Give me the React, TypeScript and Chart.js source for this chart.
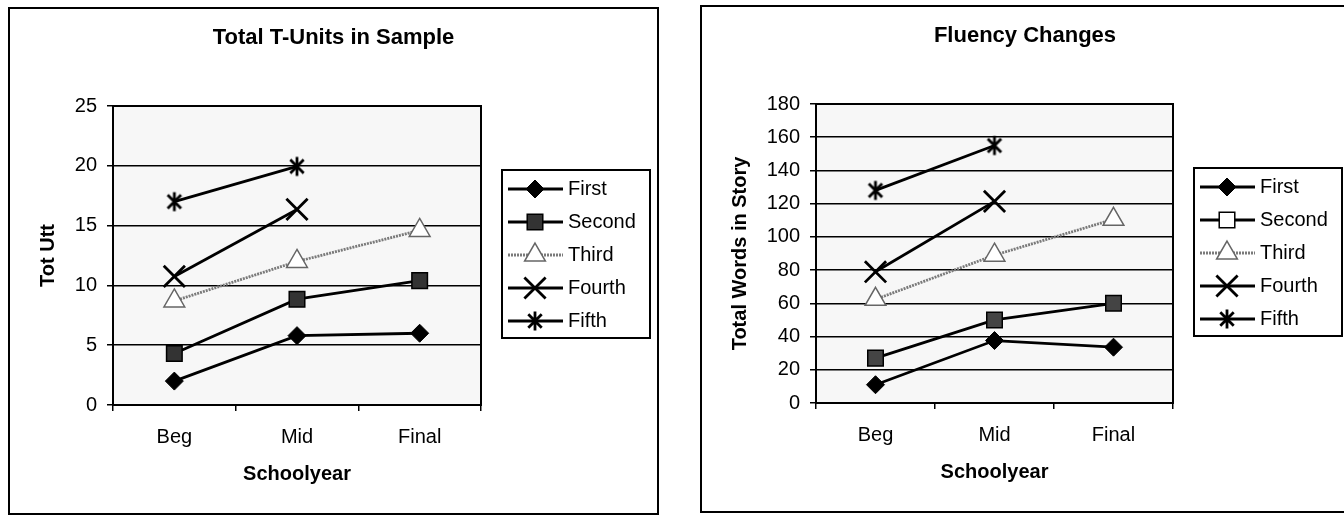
import React, { useEffect, useRef } from 'react';
import { Chart, registerables } from 'chart.js';
import { drawPoint } from 'chart.js/helpers';

Chart.register(...registerables);

const FONT = "'Liberation Sans', Arial, sans-serif";

const categories = ['Beg', 'Mid', 'Final'];
const seriesNames = ['First', 'Second', 'Third', 'Fourth', 'Fifth'];

// Left chart: Total T-Units in Sample (Tot Utt)
const unitsFirst = [2, 5.8, 6.0];
const unitsSecond = [4.3, 8.85, 10.4];
const unitsThird = [8.7, 12.0, 14.6];
const unitsFourth = [10.75, 16.35, null];
const unitsFifth = [17, 19.95, null];
const unitsMax = 25;
const unitsStep = 5;

// Right chart: Fluency Changes (Total Words in Story)
const wordsFirst = [11, 37.6, 33.6];
const wordsSecond = [27, 50, 60];
const wordsThird = [62.4, 89, 110.6];
const wordsFourth = [79, 121.4, null];
const wordsFifth = [128, 155, null];
const wordsMax = 180;
const wordsStep = 20;

function makeAsterisk(): HTMLCanvasElement {
  const size = 22;
  const c = document.createElement('canvas');
  c.width = size;
  c.height = size;
  const g = c.getContext('2d')!;
  g.strokeStyle = '#000';
  g.lineWidth = 2.8;
  const m = size / 2;
  const r = 9.5;
  const d = r * Math.SQRT1_2;
  g.beginPath();
  g.moveTo(m, m - r);
  g.lineTo(m, m + r);
  g.moveTo(m - d, m - d);
  g.lineTo(m + d, m + d);
  g.moveTo(m + d, m - d);
  g.lineTo(m - d, m + d);
  g.stroke();
  return c;
}

function buildDatasets(values: (number | null)[][], squareFill: string, legendSquareFill: string, asterisk: HTMLCanvasElement) {
  const [a, b, c, d, e] = values;
  return [
    { label: seriesNames[0], data: a, borderColor: '#000', borderWidth: 2.8, pointStyle: 'rectRot', pointRadius: 9, pointBackgroundColor: '#000', pointBorderColor: '#000', pointBorderWidth: 1 },
    { label: seriesNames[1], data: b, borderColor: '#000', borderWidth: 2.8, pointStyle: 'rect', pointRadius: 11, pointBackgroundColor: squareFill, pointBorderColor: '#000', pointBorderWidth: 1.5, legendFill: legendSquareFill },
    { label: seriesNames[2], data: c, borderColor: '#7a7a7a', borderWidth: 2.8, borderDash: [2, 1], pointStyle: 'triangle', pointRadius: 12, pointBackgroundColor: '#fff', pointBorderColor: '#666', pointBorderWidth: 1.5 },
    { label: seriesNames[3], data: d, borderColor: '#000', borderWidth: 2.8, pointStyle: 'crossRot', pointRadius: 15, pointBackgroundColor: '#000', pointBorderColor: '#000', pointBorderWidth: 2.8 },
    { label: seriesNames[4], data: e, borderColor: '#000', borderWidth: 2.8, pointStyle: asterisk, pointRadius: 10, pointBackgroundColor: '#000', pointBorderColor: '#000', pointBorderWidth: 2.8 },
  ];
}

const framePlugin = {
  id: 'plotFrame',
  beforeDraw(chart: any) {
    const { ctx, chartArea } = chart;
    const { left, top, right, bottom } = chartArea;
    ctx.save();
    ctx.fillStyle = '#f7f7f7';
    ctx.fillRect(left, top, right - left, bottom - top);
    ctx.restore();
  },
  beforeDatasetsDraw(chart: any) {
    const { ctx, chartArea } = chart;
    const { left, top, right, bottom } = chartArea;
    ctx.save();
    ctx.strokeStyle = '#000';
    ctx.lineWidth = 2;
    ctx.strokeRect(left, top, right - left, bottom - top);
    ctx.restore();
  },
};

const titlePlugin = {
  id: 'boxTitle',
  afterDraw(chart: any, _args: any, opts: any) {
    const { ctx } = chart;
    ctx.save();
    ctx.fillStyle = '#000';
    ctx.font = `bold 22px ${FONT}`;
    ctx.textAlign = 'center';
    ctx.textBaseline = 'middle';
    ctx.fillText(opts.text, chart.width / 2, opts.y);
    ctx.restore();
  },
};

const legendPlugin = {
  id: 'boxLegend',
  afterDraw(chart: any, _args: any, opts: any) {
    const { ctx } = chart;
    const { x, y, w, h, row0, gap } = opts;
    ctx.save();
    ctx.fillStyle = '#fff';
    ctx.fillRect(x, y, w, h);
    ctx.strokeStyle = '#000';
    ctx.lineWidth = 2;
    ctx.strokeRect(x, y, w, h);
    chart.data.datasets.forEach((ds: any, i: number) => {
      const cy = row0 + i * gap;
      ctx.save();
      ctx.strokeStyle = ds.borderColor;
      ctx.lineWidth = ds.borderWidth;
      ctx.setLineDash(ds.borderDash || []);
      ctx.beginPath();
      ctx.moveTo(x + 6, cy);
      ctx.lineTo(x + 61, cy);
      ctx.stroke();
      ctx.setLineDash([]);
      ctx.fillStyle = ds.legendFill || ds.pointBackgroundColor;
      ctx.strokeStyle = ds.pointBorderColor;
      ctx.lineWidth = ds.pointBorderWidth;
      drawPoint(ctx, { pointStyle: ds.pointStyle, radius: ds.pointRadius, borderWidth: ds.pointBorderWidth, rotation: 0 } as any, x + 33, cy);
      ctx.restore();
      ctx.fillStyle = '#000';
      ctx.font = `20px ${FONT}`;
      ctx.textAlign = 'left';
      ctx.textBaseline = 'middle';
      ctx.fillText(ds.label, x + 66, cy);
    });
    ctx.restore();
  },
};

function makeConfig(p: {
  title: string; yTitle: string; max: number; step: number; yWidth: number; padRight: number; datasets: any[];
}) {
  return {
    type: 'line',
    data: { labels: categories, datasets: p.datasets },
    options: {
      responsive: false,
      animation: false,
      events: [],
      layout: { padding: { left: 0, top: 99, right: p.padRight, bottom: 0 } },
      elements: { line: { tension: 0 } },
      plugins: {
        legend: { display: false },
        title: { display: false },
        tooltip: { enabled: false },
        boxTitle: { text: p.title, y: 30.5 },
        boxLegend: { x: 494, y: 163, w: 148, h: 168, row0: 182, gap: 33 },
      },
      scales: {
        x: {
          type: 'category',
          offset: true,
          grid: { display: true, drawOnChartArea: false, drawTicks: true, tickLength: 6, color: '#000', lineWidth: 1.5, offset: true },
          border: { display: true, color: '#000', width: 2 },
          ticks: { color: '#000', font: { family: FONT, size: 20 }, padding: 14, maxRotation: 0, autoSkip: false },
          title: { display: true, text: 'Schoolyear', color: '#000', font: { family: FONT, size: 20, weight: 'bold' }, padding: { top: 0, bottom: 29 } },
          afterFit: (s: any) => { s.height = 110; },
        },
        y: {
          min: 0,
          max: p.max,
          ticks: { stepSize: p.step, color: '#000', font: { family: FONT, size: 20 }, padding: 10 },
          grid: { color: '#000', lineWidth: 1.5, tickLength: 6, drawTicks: true },
          border: { display: true, color: '#000', width: 2 },
          title: { display: true, text: p.yTitle, color: '#000', font: { family: FONT, size: 20, weight: 'bold' }, padding: { top: 28, bottom: 0 } },
          afterFit: (s: any) => { s.width = p.yWidth; },
        },
      },
    },
    plugins: [framePlugin, titlePlugin, legendPlugin],
  };
}

function ChartBox(props: { left: number; top: number; width: number; height: number; build: () => any }) {
  const ref = useRef<HTMLCanvasElement>(null);
  useEffect(() => {
    const chart = new Chart(ref.current as HTMLCanvasElement, props.build());
    return () => chart.destroy();
  }, []);
  const { left, top, width, height } = props;
  return (
    <div style={{ position: 'absolute', left, top, width, height }}>
      <div style={{ position: 'absolute', left: 0, top: 0, width, height, border: '2px solid #000', boxSizing: 'border-box' }} />
      <canvas ref={ref} width={width} height={height} style={{ position: 'absolute', left: 0, top: 0, width, height }} />
    </div>
  );
}

export default function App() {
  const buildLeft = () => {
    const ast = makeAsterisk();
    return makeConfig({
      title: 'Total T-Units in Sample',
      yTitle: 'Tot Utt',
      max: unitsMax,
      step: unitsStep,
      yWidth: 105,
      padRight: 178,
      datasets: buildDatasets([unitsFirst, unitsSecond, unitsThird, unitsFourth, unitsFifth], '#333', '#333', ast),
    });
  };
  const buildRight = () => {
    const ast = makeAsterisk();
    return makeConfig({
      title: 'Fluency Changes',
      yTitle: 'Total Words in Story',
      max: wordsMax,
      step: wordsStep,
      yWidth: 116,
      padRight: 177,
      datasets: buildDatasets([wordsFirst, wordsSecond, wordsThird, wordsFourth, wordsFifth], '#444', '#fff', ast),
    });
  };
  return (
    <div style={{ position: 'fixed', left: 0, top: 0, width: 1344, height: 515, overflow: 'hidden', background: '#fff' }}>
      <ChartBox left={8} top={7} width={651} height={508} build={buildLeft} />
      <ChartBox left={700} top={5} width={650} height={508} build={buildRight} />
    </div>
  );
}
